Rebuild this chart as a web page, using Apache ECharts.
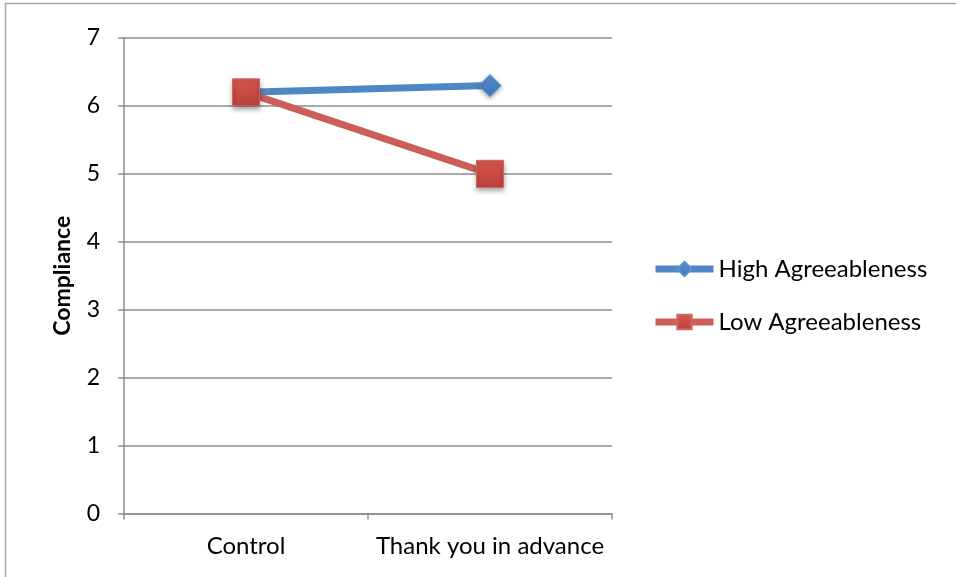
<!DOCTYPE html>
<html>
<head>
<meta charset="utf-8">
<script src="https://cdn.jsdelivr.net/npm/echarts@6/dist/echarts.min.js"></script>
<style>
  html, body { margin: 0; padding: 0; background: #fff; }
  #chart { width: 956px; height: 577px; }
</style>
</head>
<body>
<div id="chart"></div>
<script>
// Conditions on the x axis
const categories = ['Control', 'Thank you in advance'];
// Mean compliance per group
const highAgreeableness = [6.2, 6.3];
const lowAgreeableness = [6.2, 5.0];
// Y axis range
const yTicks = [0, 1, 2, 3, 4, 5, 6, 7];

const FONT = 'Lato, "Open Sans", sans-serif';
const BLUE = '#4f86c6';
const RED = '#cb5e58';

const chart = echarts.init(document.getElementById('chart'));
chart.setOption({
  animation: false,
  backgroundColor: '#fff',
  graphic: [{
    type: 'rect',
    shape: { x: 5.5, y: 3.5, width: 1200, height: 1200 },
    style: { fill: 'none', stroke: '#a6a6a6', lineWidth: 1.5 },
    silent: true
  }],
  grid: { left: 124, right: 344, top: 38, bottom: 63.5, containLabel: false },
  legend: {
    orient: 'vertical',
    left: 647,
    top: 252,
    itemWidth: 58,
    itemHeight: 18,
    itemGap: 29,
    lineStyle: { width: 7 },
    textStyle: { fontFamily: FONT, fontSize: 24, color: '#000' },
    data: ['High Agreeableness', 'Low Agreeableness']
  },
  xAxis: {
    type: 'category',
    data: categories,
    boundaryGap: true,
    axisLine: { lineStyle: { color: '#8c8c8c', width: 1.5 } },
    axisTick: { show: true, length: 6, inside: false, lineStyle: { color: '#8c8c8c', width: 1.5 } },
    axisLabel: { fontFamily: FONT, fontSize: 24, color: '#000', margin: 21, interval: 0, hideOverlap: false },
    splitLine: { show: false }
  },
  yAxis: {
    type: 'value',
    min: yTicks[0],
    max: yTicks[yTicks.length - 1],
    interval: 1,
    name: 'Compliance',
    nameLocation: 'middle',
    nameGap: 50,
    nameRotate: 90,
    nameTextStyle: { fontFamily: FONT, fontSize: 23, fontWeight: 'bold', color: '#000' },
    axisLine: { show: true, lineStyle: { color: '#8c8c8c', width: 1.5 } },
    axisTick: { show: true, length: 6, lineStyle: { color: '#8c8c8c', width: 1.5 } },
    axisLabel: { fontFamily: FONT, fontSize: 23, color: '#000', margin: 24 },
    splitLine: { show: true, lineStyle: { color: '#8c8c8c', width: 1.5 } }
  },
  series: [
    {
      name: 'High Agreeableness',
      type: 'line',
      data: highAgreeableness,
      symbol: 'diamond',
      symbolSize: 22,
      lineStyle: { color: BLUE, width: 7 },
      itemStyle: {
        color: new echarts.graphic.LinearGradient(0, 0, 0, 1, [
          { offset: 0, color: '#5a93d6' }, { offset: 1, color: '#3c72b5' }
        ]),
        borderColor: '#5a8fd0', borderWidth: 1,
        shadowBlur: 4, shadowOffsetY: 2, shadowColor: 'rgba(0,0,0,0.35)'
      },
      z: 2
    },
    {
      name: 'Low Agreeableness',
      type: 'line',
      data: lowAgreeableness,
      symbol: 'rect',
      symbolSize: 27,
      lineStyle: { color: RED, width: 7 },
      itemStyle: {
        color: new echarts.graphic.LinearGradient(0, 0, 0, 1, [
          { offset: 0, color: '#d9574f' }, { offset: 1, color: '#b8413c' }
        ]),
        borderColor: '#d06661', borderWidth: 1,
        shadowBlur: 5, shadowOffsetY: 3, shadowColor: 'rgba(0,0,0,0.4)'
      },
      z: 3
    }
  ]
});
</script>
</body>
</html>
